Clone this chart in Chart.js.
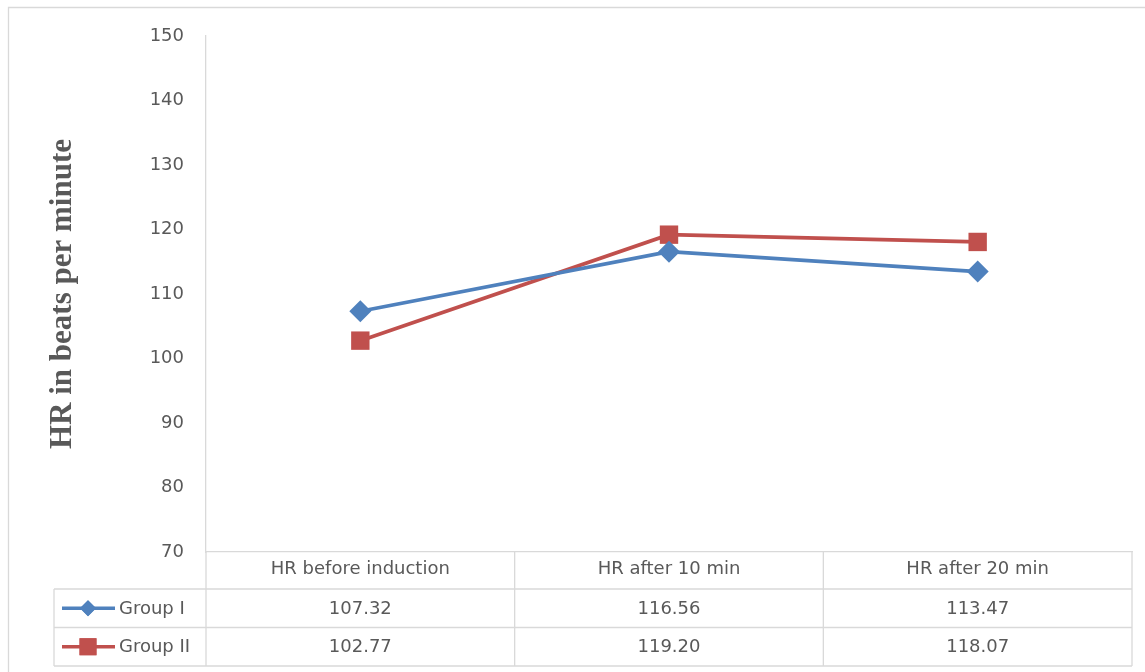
<!DOCTYPE html>
<html>
<head>
<meta charset="utf-8">
<script src="https://cdn.jsdelivr.net/npm/chart.js@4/dist/chart.umd.min.js"></script>
<style>
  html, body { margin: 0; padding: 0; background: #ffffff; }
  #wrap { position: relative; width: 1145px; height: 672px; }
  canvas { display: block; }
</style>
</head>
<body>
<div id="wrap"><canvas id="c" width="1145" height="672"></canvas></div>
<script>
const categories = ['HR before induction', 'HR after 10 min', 'HR after 20 min'];
const seriesNames = ['Group I', 'Group II'];
const group1 = [107.32, 116.56, 113.47];
const group2 = [102.77, 119.20, 118.07];
const yTicksMin = 70;
const yTicksMax = 150;
const yTickStep = 10;
const axisTitle = 'HR in beats per minute';

const BLUE = '#4F81BD';
const RED = '#C0504D';
const TEXT = '#595959';
const LINE = '#D9D9D9';
const FONT = 'DejaVu Sans';

const tablePlugin = {
  id: 'dataTable',
  afterDraw(chart) {
    const ctx = chart.ctx;
    const xs = chart.scales.x;
    const area = chart.chartArea;
    const top = area.bottom;
    const headerH = 37;
    const rowH = 38.5;
    const tableLeft = 54;
    const right = area.right;
    const rows = [group1, group2];
    const yRow = [top + headerH, top + headerH + rowH, top + headerH + 2 * rowH];
    ctx.save();
    ctx.strokeStyle = LINE;
    ctx.lineWidth = 1.3;
    // outer chart border
    ctx.beginPath();
    ctx.moveTo(8.5, 680); ctx.lineTo(8.5, 7.5); ctx.lineTo(1150, 7.5);
    ctx.stroke();
    // horizontal table lines
    ctx.beginPath();
    yRow.forEach(y => { ctx.moveTo(tableLeft, y); ctx.lineTo(right, y); });
    // vertical table lines
    const bounds = [area.left];
    for (let i = 0; i < categories.length - 1; i++) {
      bounds.push((xs.getPixelForValue(i) + xs.getPixelForValue(i + 1)) / 2);
    }
    bounds.push(right);
    bounds.forEach(x => { ctx.moveTo(x, top); ctx.lineTo(x, yRow[2]); });
    ctx.moveTo(tableLeft, yRow[0]); ctx.lineTo(tableLeft, yRow[2]);
    ctx.stroke();

    // rows
    const colors = [BLUE, RED];
    const styles = ['rectRot', 'rect'];
    const radii = [8, 12];
    ctx.font = '18px "' + FONT + '"';
    ctx.textBaseline = 'middle';
    rows.forEach((vals, r) => {
      const cy = (yRow[r] + yRow[r + 1]) / 2;
      // legend key
      ctx.strokeStyle = colors[r];
      ctx.lineWidth = 3.5;
      ctx.beginPath();
      ctx.moveTo(62, cy); ctx.lineTo(115, cy);
      ctx.stroke();
      ctx.fillStyle = colors[r];
      Chart.helpers.drawPoint(ctx, { pointStyle: styles[r], radius: radii[r], borderWidth: 0 }, 88, cy);
      ctx.fill();
      ctx.fillStyle = TEXT;
      ctx.textAlign = 'left';
      ctx.fillText(seriesNames[r], 119, cy + 1);
      ctx.textAlign = 'center';
      vals.forEach((v, i) => {
        ctx.fillText(v.toFixed(2), xs.getPixelForValue(i), cy + 1);
      });
    });
    ctx.restore();
  }
};

new Chart(document.getElementById('c'), {
  type: 'line',
  data: {
    labels: categories,
    datasets: [
      {
        label: seriesNames[0], data: group1,
        borderColor: BLUE, backgroundColor: BLUE, borderWidth: 3.7,
        pointStyle: 'rectRot', pointRadius: 11, pointBorderWidth: 0,
        tension: 0
      },
      {
        label: seriesNames[1], data: group2,
        borderColor: RED, backgroundColor: RED, borderWidth: 3.7,
        pointStyle: 'rect', pointRadius: 13, pointBorderWidth: 0,
        tension: 0
      }
    ]
  },
  options: {
    responsive: false,
    animation: false,
    layout: { padding: { left: 0, top: 36, right: 13, bottom: 0 } },
    plugins: { legend: { display: false }, tooltip: { enabled: false } },
    scales: {
      x: {
        offset: true,
        grid: { display: false, drawTicks: false },
        border: { display: true, color: LINE, width: 1.3 },
        ticks: { color: TEXT, font: { family: FONT, size: 18 }, padding: 7 },
        afterFit(scale) { scale.height = 120; }
      },
      y: {
        min: yTicksMin, max: yTicksMax,
        grid: { display: false, drawTicks: false },
        border: { display: true, color: LINE, width: 1.3 },
        ticks: { stepSize: yTickStep, color: TEXT, font: { family: FONT, size: 18 }, padding: 22 },
        title: {
          display: true, text: axisTitle, color: TEXT,
          font: { family: 'Liberation Serif', size: 31, weight: 'bold' },
          padding: { top: 44, bottom: 0 }
        },
        afterFit(scale) { scale.width = 206; }
      }
    }
  },
  plugins: [tablePlugin]
});
</script>
</body>
</html>
